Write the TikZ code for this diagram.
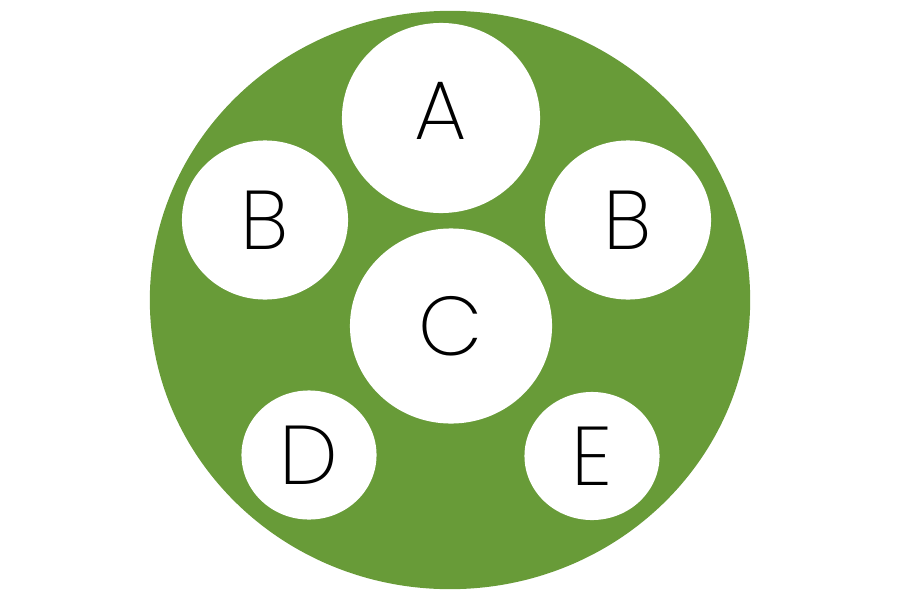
\documentclass[tikz,border=0pt]{standalone}
\usepackage{fontspec}
\setmainfont{Poppins ExtraLight}
\usetikzlibrary{positioning,shapes.geometric}
\definecolor{leafgreen}{RGB}{104,155,56}
\tikzstyle{rim}=[ellipse, fill=leafgreen, inner sep=0pt,
                 minimum width=6cm, minimum height=5.78cm]
\tikzstyle{hole}=[ellipse, fill=white, inner sep=0pt,
                  font=\fontsize{23.7}{28}\selectfont]

\begin{document}
\begin{tikzpicture}[x=0.01cm,y=-0.01cm]
\useasboundingbox (0,0) rectangle (900,600);

\node (RIM) [rim] at (450,300) {};

\node (A) [hole, minimum width=1.98cm, minimum height=1.9cm,
           text depth=0.14cm] at (441,118) {A};
\node (BL) [hole, minimum width=1.66cm, minimum height=1.59cm] at (265,220) {B};
\node (BR) [hole, minimum width=1.66cm, minimum height=1.59cm] at (628,220) {B};
\node (C) [hole, minimum width=2.02cm, minimum height=1.95cm] at (451,326) {C};
\node (D) [hole, minimum width=1.35cm, minimum height=1.29cm] at (309,455) {D};
\node (E) [hole, minimum width=1.35cm, minimum height=1.28cm] at (592,456) {E};

\end{tikzpicture}
\end{document}
